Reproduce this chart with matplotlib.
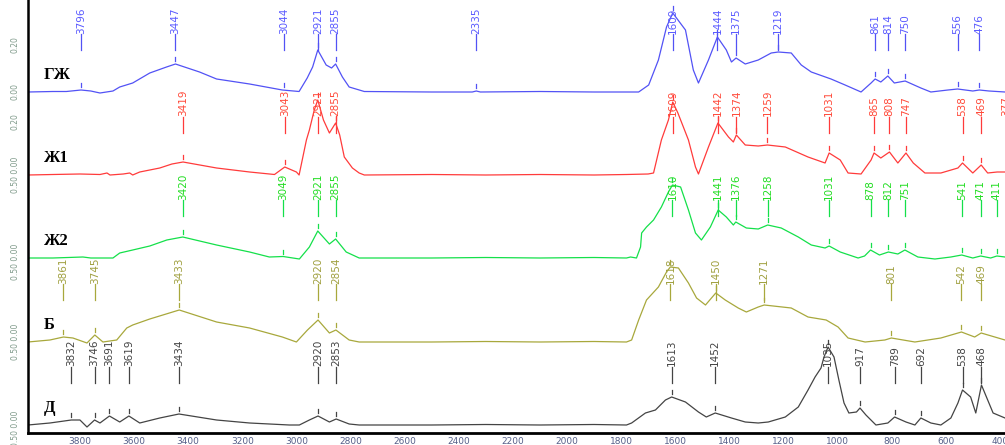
import numpy as np
from matplotlib import pyplot as plt
from matplotlib import transforms

# IR spectra, wavenumber (cm-1) vs. relative absorbance (arb. units)
gzh = [(3992, 0), (3900, 0.5), (3850, 0.5), (3796, 2), (3760, 1), (3726, -1), (3678, 1), (3653, 5),
       (3605, 9), (3542, 19), (3480, 25), (3447, 28), (3358, 20), (3295, 13), (3173, 8), (3052, 2),
       (2990, 0.5), (2960, 14), (2940, 25), (2921, 42), (2890, 27), (2870, 24), (2855, 28), (2830, 15),
       (2805, 5), (2749, 0.5), (2500, 0), (2350, 0), (2335, 1), (2320, 0), (2100, 0.5), (1900, 0),
       (1780, 0), (1735, 0), (1698, 7), (1662, 32), (1632, 65), (1609, 79), (1562, 62), (1533, 22),
       (1514, 9), (1477, 32), (1444, 55), (1411, 42), (1392, 30), (1375, 34), (1341, 28), (1293, 32),
       (1245, 39), (1219, 40), (1171, 39), (1134, 27), (1097, 20), (1024, 13), (972, 7), (913, 0),
       (876, 9), (861, 13), (840, 10), (814, 16), (790, 9), (750, 11), (692, 4), (655, 0), (592, 2),
       (556, 3), (500, 1), (476, 2), (440, 1), (381, 0)]
zh1 = [(3992, 0), (3900, 0.5), (3800, 1), (3726, 0.5), (3700, 2), (3689, 0), (3640, 1), (3616, 2),
       (3605, 0), (3579, 3), (3505, 7), (3460, 11), (3419, 13), (3295, 7), (3173, 3), (3081, 0.5),
       (3043, 8), (3000, 3), (2990, 0), (2963, 35), (2952, 45), (2934, 65), (2921, 75), (2900, 55),
       (2878, 42), (2855, 52), (2840, 40), (2823, 18), (2793, 7), (2768, 2), (2749, 0), (2500, 0.5),
       (2300, 0), (2100, 0.5), (1900, 0), (1780, 0.5), (1700, 1), (1680, 2), (1651, 35), (1625, 55),
       (1609, 73), (1590, 62), (1551, 35), (1525, 8), (1514, 1), (1477, 28), (1442, 52), (1403, 38),
       (1385, 33), (1374, 40), (1341, 30), (1293, 29), (1259, 30), (1193, 28), (1109, 18), (1046, 12),
       (1031, 22), (990, 15), (961, 2), (913, 1), (876, 15), (865, 22), (840, 17), (808, 23), (777, 12),
       (747, 22), (720, 12), (677, 2), (618, 2), (555, 7), (538, 12), (500, 2), (469, 10), (445, 2),
       (410, 3), (377, 3), (370, 2)]
zh2 = [(3992, 0), (3900, 0), (3789, 1), (3760, 0), (3678, 0), (3653, 5), (3605, 8), (3542, 12),
       (3479, 18), (3420, 21), (3295, 13), (3173, 6), (3100, 1), (3049, 1.5), (2989, -1), (2952, 11),
       (2921, 27), (2878, 14), (2855, 19), (2816, 6), (2768, 0), (2500, 0), (2300, 0.5), (2100, 0),
       (1900, 0.5), (1780, 0), (1765, 1), (1743, 0), (1728, 11), (1724, 25), (1706, 31), (1680, 38),
       (1651, 51), (1625, 66), (1610, 73), (1580, 71), (1551, 48), (1525, 25), (1503, 18), (1470, 31),
       (1441, 48), (1411, 41), (1385, 33), (1376, 36), (1337, 30), (1293, 29), (1258, 33), (1208, 30),
       (1145, 21), (1097, 13), (1046, 10), (1031, 12), (990, 6), (924, 0), (900, 2), (878, 8), (845, 3),
       (812, 6), (777, 4), (751, 8), (703, 1), (640, -1), (581, 1), (541, 3), (500, 0), (471, 2),
       (434, 0), (411, 2), (381, 1)]
b = [(3992, 0), (3911, 2), (3861, 5), (3826, 4), (3774, -1), (3745, 7), (3715, 0), (3664, 2),
     (3627, 14), (3605, 17), (3542, 23), (3433, 32), (3295, 20), (3173, 14), (3052, 5), (3000, 0),
     (2959, 12), (2920, 22), (2878, 9), (2854, 12), (2805, 2), (2768, 0), (2500, 0), (2300, 0.5),
     (2100, 0), (1900, 0.5), (1780, 0), (1761, 2), (1735, 22), (1706, 42), (1662, 55), (1632, 70),
     (1618, 75), (1588, 74), (1551, 59), (1521, 44), (1488, 37), (1450, 49), (1415, 42), (1367, 34),
     (1337, 30), (1293, 35), (1271, 37), (1171, 34), (1109, 25), (1042, 22), (998, 15), (961, 4),
     (898, 0), (825, 2), (801, 4), (714, 0), (618, 4), (542, 10), (493, 5), (469, 9), (381, 2)]
d = [(3992, 0), (3911, 2), (3832, 5), (3800, 5), (3774, -2), (3746, 5), (3726, 2), (3691, 9),
     (3653, 3), (3619, 9), (3579, 2), (3505, 7), (3434, 11), (3295, 5), (3173, 2), (3026, 0),
     (2989, 0), (2952, 5), (2920, 9), (2878, 3), (2853, 6), (2805, 1), (2768, 0), (2500, 0),
     (2300, 0.5), (2100, 0), (1900, 0.5), (1780, 0), (1761, 2), (1710, 12), (1673, 15), (1636, 25),
     (1613, 28), (1562, 23), (1514, 13), (1485, 8), (1452, 12), (1392, 7), (1341, 3), (1293, 2),
     (1256, 3), (1193, 8), (1145, 18), (1109, 35), (1083, 48), (1061, 57), (1050, 68), (1035, 78),
     (1013, 68), (995, 45), (976, 22), (958, 12), (930, 13), (917, 17), (895, 10), (858, 0),
     (814, 2), (789, 8), (747, 3), (714, 0), (692, 7), (655, 2), (618, 0), (581, 7), (555, 22),
     (538, 35), (508, 28), (489, 12), (468, 40), (445, 25), (425, 12), (381, 7)]

# labelled band positions
gzh_peaks = [3796, 3447, 3044, 2921, 2855, 2335, 1609, 1444, 1375, 1219, 861, 814, 750, 556, 476]
zh1_peaks = [3419, 3043, 2921, 2855, 1609, 1442, 1374, 1259, 1031, 865, 808, 747, 538, 469, 377]
zh2_peaks = [3420, 3049, 2921, 2855, 1610, 1441, 1376, 1258, 1031, 878, 812, 751, 541, 471, 411]
b_peaks = [3861, 3745, 3433, 2920, 2854, 1618, 1450, 1271, 801, 542, 469]
d_peaks = [3832, 3746, 3691, 3619, 3434, 2920, 2853, 1613, 1452, 1035, 917, 789, 692, 538, 468]

names = ['ГЖ', 'Ж1', 'Ж2', 'Б', 'Д']
spectra = [gzh, zh1, zh2, b, d]
peaks = [gzh_peaks, zh1_peaks, zh2_peaks, b_peaks, d_peaks]
offsets = [333, 250, 167, 83, 0]
colors = ['#5252f5', '#ff3b3b', '#14e04a', '#a8a83c', '#444444']
label_colors = ['#5a5aff', '#ff4a3a', '#22dd22', '#a0a040', '#444444']

xticks = np.arange(3800, 399, -200)

# left scale marks (text, height)
scale_text = ['0.20', '0.00', '0.20', '0.50 0.00', '0.50 0.00', '0.50 0.00', '0.50 0.00']
scale_y = [380, 333, 303, 250, 163, 83, -4]

fig = plt.figure(figsize=(10.05, 4.45), dpi=100)
ax = fig.add_axes([28/1005, 12/445, 977/1005, 433/445])
trans = transforms.blended_transform_factory(ax.transAxes, ax.transData)

narrow = ['Liberation Sans Narrow', 'DejaVu Sans']

for name, spec, pk, off, c, lc in zip(names, spectra, peaks, offsets, colors, label_colors):
    wn = np.array([p[0] for p in spec], dtype=float)
    h = np.array([p[1] for p in spec], dtype=float)
    ax.plot(wn, h + off, color=c, lw=0.9)
    # wn is descending, np.interp needs ascending
    for p in pk:
        hp = np.interp(p, wn[::-1], h[::-1])
        ax.plot([p, p], [off + hp + 3, off + hp + 7], color=c, lw=0.9, clip_on=False)
        ax.plot([p, p], [off + 42, off + 58], color=c, lw=0.9, clip_on=False)
        ax.text(p, off + 58.5, str(p), rotation=90, ha='center', va='bottom',
                fontsize=7.5, color=lc, family=narrow, clip_on=False)
    ax.text(0.0165, off + 17, name, transform=trans, ha='left', va='center',
            fontsize=12, fontweight='bold', family=['Liberation Serif', 'DejaVu Serif'])

for t, y in zip(scale_text, scale_y):
    ax.text(-0.013, y, t, transform=trans, rotation=90, ha='center', va='center',
            fontsize=5.5, color='#7f9a8a', clip_on=False)

ax.set_xlim(3992, 381)
ax.set_ylim(-8, 425)
ax.set_xticks(xticks)
ax.set_xticklabels([str(v) for v in xticks])
ax.tick_params(axis='x', length=0, pad=3, labelsize=6.5, labelcolor='#56608a')
ax.set_yticks([])
for s in ['top', 'right']:
    ax.spines[s].set_visible(False)
ax.spines['left'].set_linewidth(1.8)
ax.spines['bottom'].set_linewidth(2.0)

fig.savefig('out.png', dpi=100)
